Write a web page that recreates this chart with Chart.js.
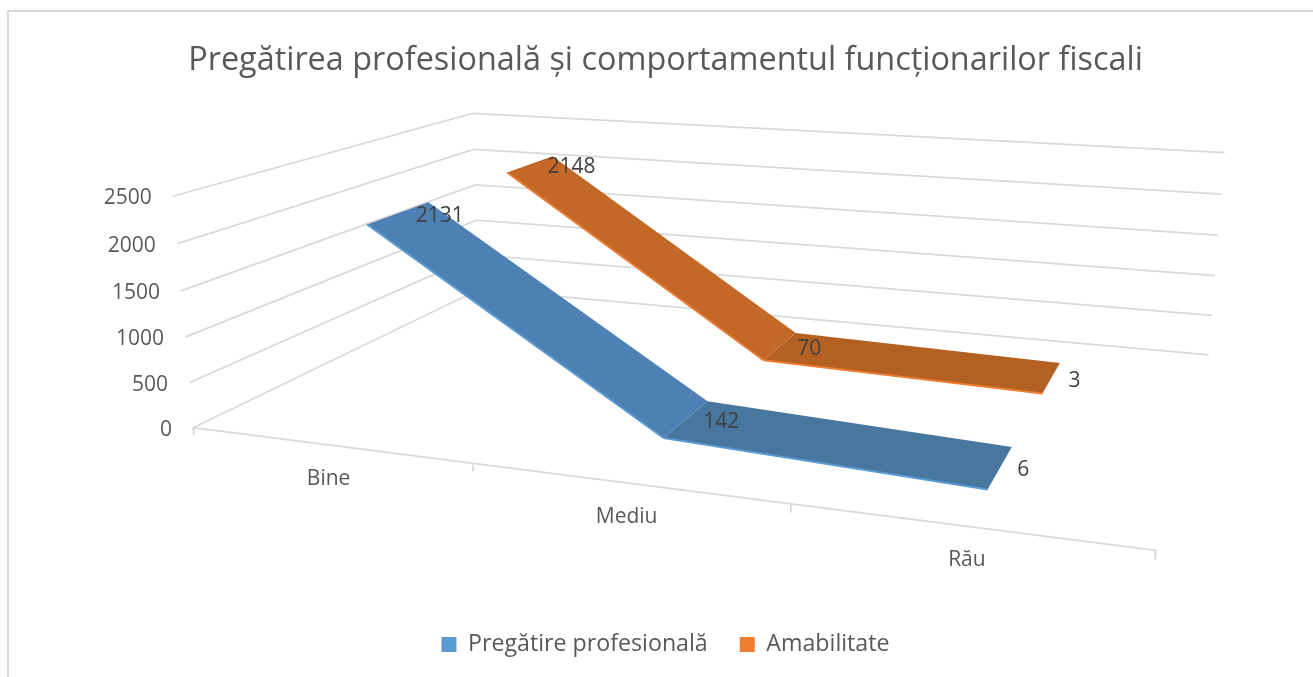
<!DOCTYPE html>
<html><head><meta charset="utf-8">
<style>html,body{margin:0;padding:0;background:#fff;overflow:hidden}canvas{display:block}</style>
<script src="https://cdn.jsdelivr.net/npm/chart.js@4"></script></head>
<body><canvas id="c" width="1313" height="677"></canvas>
<script>
const titleText = 'Pregătirea profesională și comportamentul funcționarilor fiscali';
const categories = ['Bine', 'Mediu', 'Rău'];
const seriesNames = ['Pregătire profesională', 'Amabilitate'];
const preparation = [2131, 142, 6];
const kindness = [2148, 70, 3];
const valueTicks = [0, 500, 1000, 1500, 2000, 2500];
const seriesColors = ['#5B9BD5', '#ED7D31'];
const quadColors = [['#4E81B3', '#47769F'], ['#C46827', '#B36023']];
const seriesDepth = [[0.15, 0.35], [0.65, 0.85]];
const FONT = '"Open Sans", sans-serif';

/* Camera: least-squares projective fit. Each anchor: [along, depth, height, screenX, screenY] */
const anchors = [
 [0,0,0,193,427],[1/3,0,0,473,465],[2/3,0,0,791,506],[1,0,0,1157,548],
 [0,0,.2,189,383],[0,0,.4,185,337],[0,0,.6,181,290],[0,0,.8,178,244],[0,0,1,173,196],
 [0,1,0,481,289],[0,1,.4,477,220],[0,1,.6,475,185],[0,1,.8,473,149],[0,1,1,473,114],
 [1,1,0,1209,355],[1,1,.2,1213,315],[1,1,.4,1216,276],[1,1,.6,1219,235],[1,1,.8,1222,194],[1,1,1,1226,153]
];
function solveCamera(){
  const n=11, A=Array.from({length:n},()=>new Array(n+1).fill(0));
  const add=(r,b)=>{for(let i=0;i<n;i++){for(let j=0;j<n;j++)A[i][j]+=r[i]*r[j];A[i][n]+=r[i]*b;}};
  for(const [u,v,h,X,Y] of anchors){
    const x=X/1000,y=Y/1000;
    add([u,v,h,1,0,0,0,0,-x*u,-x*v,-x*h],x);
    add([0,0,0,0,u,v,h,1,-y*u,-y*v,-y*h],y);
  }
  for(let c=0;c<n;c++){
    let m=c;for(let r=c+1;r<n;r++)if(Math.abs(A[r][c])>Math.abs(A[m][c]))m=r;
    [A[c],A[m]]=[A[m],A[c]];
    for(let r=0;r<n;r++){if(r===c)continue;const f=A[r][c]/A[c][c];for(let k=c;k<=n;k++)A[r][k]-=f*A[c][k];}
  }
  return A.map((row,i)=>row[n]/row[i]);
}
const P=solveCamera();
function project(u,v,h){
  const w=P[8]*u+P[9]*v+P[10]*h+1;
  return {x:1000*(P[0]*u+P[1]*v+P[2]*h+P[3])/w, y:1000*(P[4]*u+P[5]*v+P[6]*h+P[7])/w};
}
const maxValue=valueTicks[valueTicks.length-1];
const catU=i=>(i+.5)/categories.length;

const datasets=[];
function lineSet(points,color,width,order){
  datasets.push({data:points,showLine:true,borderColor:color,borderWidth:width,pointRadius:0,fill:false,clip:false,order,tension:0});
}
/* wall and floor gridlines */
valueTicks.forEach(t=>{const h=t/maxValue;
  lineSet([project(0,0,h),project(0,1,h),project(1,1,h)],'#D9D9D9',1.7,100);});
lineSet([project(0,0,0),project(1,0,0)],'#D9D9D9',1.7,100);
for(let i=0;i<=categories.length;i++){const u=i/categories.length;
  lineSet([project(u,0,0),project(u,0,-.035)],'#D9D9D9',1.7,100);}
/* ribbons */
[preparation,kindness].forEach((vals,s)=>{
  const [v0,v1]=seriesDepth[s];
  for(let i=0;i<vals.length-1;i++){
    const a=catU(i),b=catU(i+1),ha=vals[i]/maxValue,hb=vals[i+1]/maxValue;
    const q=[project(a,v0,ha),project(b,v0,hb),project(b,v1,hb),project(a,v1,ha),project(a,v0,ha)];
    datasets.push({data:q,showLine:true,borderColor:quadColors[s][i],borderWidth:0,backgroundColor:quadColors[s][i],
      fill:'shape',pointRadius:0,clip:false,order:50-s*10+i,tension:0});
    lineSet([project(a,v0,ha),project(b,v0,hb)],seriesColors[s],2,40-s*10);
  }
});

const overlay={id:'overlay',
  beforeDraw(c){const x=c.ctx;x.save();x.fillStyle='#fff';x.fillRect(0,0,c.width,c.height);
    x.strokeStyle='#D9D9D9';x.lineWidth=2;x.beginPath();x.moveTo(8,677);x.lineTo(8,11);x.lineTo(1313,11);x.stroke();x.restore();},
  afterDraw(c){
    const x=c.ctx,sx=c.scales.x,sy=c.scales.y;x.save();x.textBaseline='middle';
    const px=p=>({x:sx.getPixelForValue(p.x),y:sy.getPixelForValue(p.y)});
    x.font='21px '+FONT;x.fillStyle='#595959';x.textAlign='right';
    valueTicks.forEach(t=>{const p=px(project(0,0,t/maxValue));x.fillText(String(t),p.x-21,p.y+2);});
    x.font='21px '+FONT;x.textAlign='center';
    categories.forEach((n,i)=>{const p=px(project(catU(i),0,0));x.fillText(n,p.x,p.y+34);});
    x.font='21px '+FONT;x.fillStyle='#404040';x.textAlign='left';
    [preparation,kindness].forEach((vals,s)=>{const m=(seriesDepth[s][0]+seriesDepth[s][1])/2;
      vals.forEach((val,i)=>{const p=px(project(catU(i),m,val/maxValue));x.fillText(String(val),p.x+17,p.y+3);});});
    x.restore();
  }};

const chart=new Chart(document.getElementById('c'),{
  type:'scatter',data:{datasets},plugins:[overlay],
  options:{responsive:false,animation:false,events:[],
    layout:{padding:{left:18,right:0,top:18,bottom:11}},
    scales:{x:{type:'linear',display:false,min:0,max:1313},y:{type:'linear',display:false,reverse:true,min:0,max:677}},
    plugins:{
      title:{display:true,text:titleText,color:'#595959',font:{family:FONT,size:32.4,weight:'normal'},padding:{top:23,bottom:10}},
      tooltip:{enabled:false},
      legend:{position:'bottom',labels:{color:'#595959',boxWidth:15,boxHeight:15,padding:32,font:{family:FONT,size:23.2},
        generateLabels:()=>seriesNames.map((n,i)=>({text:n,fillStyle:seriesColors[i],strokeStyle:seriesColors[i],lineWidth:0,datasetIndex:i,fontColor:'#595959'}))}}
    }}
});
const a=chart.chartArea;
chart.options.scales.x.min=a.left;chart.options.scales.x.max=a.right;
chart.options.scales.y.min=a.top;chart.options.scales.y.max=a.bottom;
chart.update('none');
</script></body></html>
